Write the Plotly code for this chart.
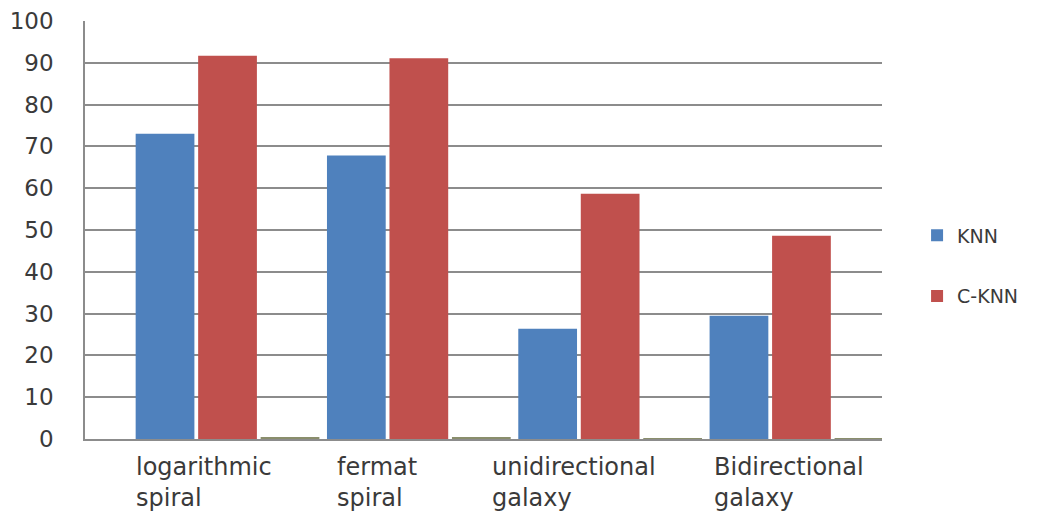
import plotly.graph_objects as go

# Accuracy (%) of the two classifiers on each dataset
categories = ["logarithmic spiral", "fermat spiral", "unidirectional galaxy", "Bidirectional galaxy"]
label_lines = [["logarithmic", "spiral"], ["fermat", "spiral"], ["unidirectional", "galaxy"], ["Bidirectional", "galaxy"]]
knn = [73.0, 67.8, 26.4, 29.5]
c_knn = [91.7, 91.1, 58.7, 48.6]
baseline = [0.4, 0.4, 0.2, 0.2]   # near-empty third series

y_ticks = [0, 10, 20, 30, 40, 50, 60, 70, 80, 90, 100]

# pixel nudges for the category captions (left edge relative to category centre)
label_shift = [-94, -84, -120, -89]

BLUE = "#4F81BD"
RED = "#C0504D"
OLIVE = "#8a8e6c"
GRID = "#8c8c8c"
TEXT = "#3a3a3a"
FONT = "DejaVu Sans"

fig = go.Figure()
fig.add_trace(go.Bar(x=categories, y=knn, name="KNN", marker=dict(color=BLUE, line=dict(width=0)),
                     legendgroup="a"))
fig.add_trace(go.Bar(x=categories, y=c_knn, name="C-KNN", marker=dict(color=RED, line=dict(width=0)),
                     legendgroup="b"))
fig.add_trace(go.Bar(x=categories, y=baseline, name="", marker=dict(color=OLIVE, line=dict(width=0)),
                     showlegend=False))

for i, lines in enumerate(label_lines):
    fig.add_annotation(
        x=categories[i], y=0, xref="x", yref="y",
        text="<br>".join(lines), showarrow=False,
        xanchor="left", yanchor="top", align="left",
        xshift=label_shift[i], yshift=-12,
        font=dict(family=FONT, size=24, color=TEXT),
    )

fig.update_layout(
    width=1037, height=518,
    margin=dict(l=85, r=155, t=21, b=79, autoexpand=False),
    paper_bgcolor="white", plot_bgcolor="white",
    barmode="group", bargap=0.02, bargroupgap=0.06,
    showlegend=True,
    legend=dict(x=1.044, y=0.414, xanchor="left", yanchor="middle",
                font=dict(family=FONT, size=19, color=TEXT),
                tracegroupgap=33, itemwidth=30, bgcolor="rgba(0,0,0,0)"),
    font=dict(family=FONT, color=TEXT),
)
fig.update_xaxes(
    type="category", range=[-0.745, 3.421], showticklabels=False, automargin=False,
    showgrid=False, showline=True, linecolor=GRID, linewidth=2, ticks="", zeroline=False,
)
fig.update_yaxes(
    range=[0, 100], tickvals=y_ticks, ticktext=[str(v) for v in y_ticks], automargin=False,
    showgrid=True, gridcolor=GRID, gridwidth=1.5,
    showline=True, linecolor=GRID, linewidth=1.5, ticks="", zeroline=False,
    ticklabelstandoff=25, tickfont=dict(family=FONT, size=23, color=TEXT),
)

fig.write_html("out.html")
